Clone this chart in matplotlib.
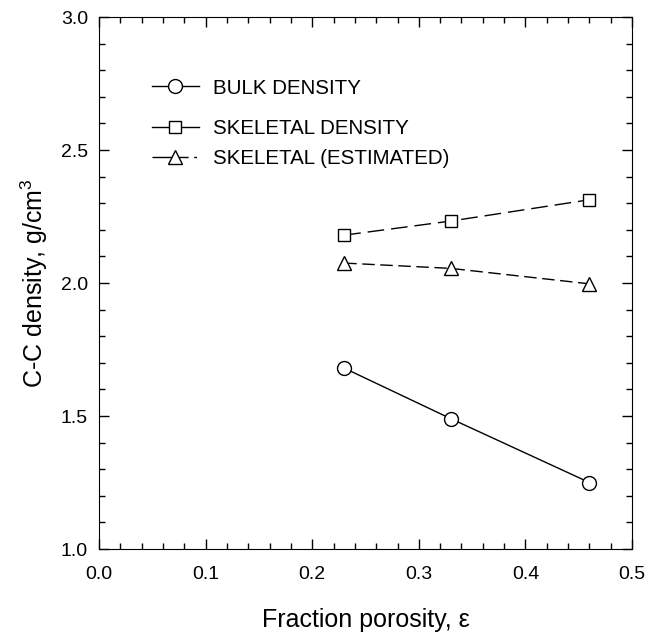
import numpy as np
import matplotlib
matplotlib.use("Agg")
import matplotlib.pyplot as plt
from matplotlib.lines import Line2D
from matplotlib.ticker import MultipleLocator, FormatStrFormatter

plt.rcParams['font.family'] = ['Liberation Sans', 'DejaVu Sans']
plt.rcParams['mathtext.fontset'] = 'custom'
plt.rcParams['mathtext.rm'] = 'Liberation Sans'
plt.rcParams['mathtext.it'] = 'Liberation Sans:italic'

# data
porosity = [0.23, 0.33, 0.46]
bulk_density = [1.68, 1.49, 1.25]
skeletal_density = [2.18, 2.233, 2.313]
skeletal_estimated = [2.075, 2.055, 1.997]

labels = ["BULK DENSITY", "SKELETAL DENSITY", "SKELETAL (ESTIMATED)"]

fig = plt.figure(figsize=(6.46, 6.35), dpi=100)
ax = fig.add_axes([0.1533, 0.1354, 0.8251, 0.8378])

mk = dict(markerfacecolor='white', markeredgecolor='black',
          markeredgewidth=1.0, color='black', linewidth=1.0)
ax.plot(porosity, bulk_density, marker='o', markersize=10, linestyle='-', **mk)
ax.plot(porosity, skeletal_density, marker='s', markersize=9, dashes=(12, 5), **mk)
ax.plot(porosity, skeletal_estimated, marker='^', markersize=9.5, dashes=(9, 4), **mk)

ax.set_xlim(0.0, 0.5)
ax.set_ylim(1.0, 3.0)
ax.xaxis.set_major_locator(MultipleLocator(0.1))
ax.xaxis.set_minor_locator(MultipleLocator(0.02))
ax.yaxis.set_major_locator(MultipleLocator(0.5))
ax.yaxis.set_minor_locator(MultipleLocator(0.1))
ax.tick_params(which='both', direction='in', top=True, right=True,
               labelsize=14, width=1.0)
ax.tick_params(which='major', length=7)
ax.tick_params(which='minor', length=4)
ax.tick_params(axis='x', which='major', pad=12)
ax.tick_params(axis='y', which='major', pad=8)
ax.xaxis.set_major_formatter(FormatStrFormatter('%.1f'))
ax.yaxis.set_major_formatter(FormatStrFormatter('%.1f'))

ax.set_xlabel("Fraction porosity, ε", fontsize=18, labelpad=18)
ax.set_ylabel("C-C density, g/cm$^3$", fontsize=18, labelpad=8)

# legend keys drawn like the original: solid stubs either side of the marker
h1 = Line2D([], [], marker='o', markersize=10, linestyle='-', **mk)
h2 = Line2D([], [], marker='s', markersize=9, linestyle='-', **mk)
h3 = Line2D([], [], marker='^', markersize=9.5, dashes=(26, 4, 2, 20), **mk)

leg_kw = dict(frameon=False, fontsize=14.8, handlelength=2.3, handletextpad=0.7,
              borderpad=0, borderaxespad=0, loc='center left')
leg1 = ax.legend([h1], [labels[0]], bbox_to_anchor=(0.099, 0.8665), **leg_kw)
ax.add_artist(leg1)
ax.legend([h2, h3], labels[1:], bbox_to_anchor=(0.099, 0.762),
          labelspacing=0.55, **leg_kw)

fig.savefig("out.png", dpi=100)
